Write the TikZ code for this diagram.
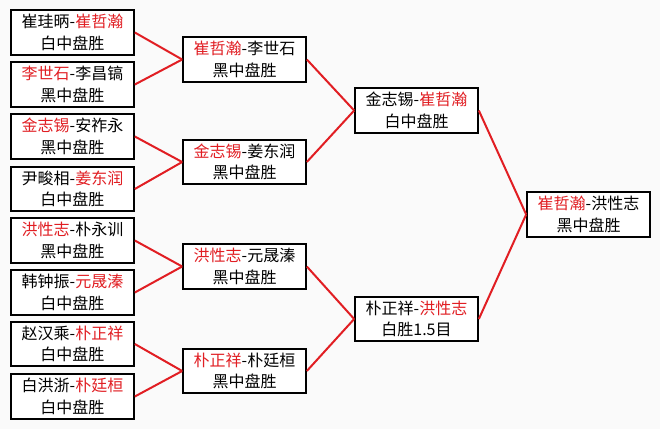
\documentclass[tikz,border=0pt]{standalone}
\usepackage{fontspec}
\newfontfamily\cjk{Noto Sans CJK SC}
\usetikzlibrary{positioning}
\definecolor{winred}{RGB}{225,30,35}
\definecolor{paper}{RGB}{250,250,250}
\tikzset{game/.style={draw=black,line width=1.5pt,fill=white,minimum width=92pt,minimum height=33.5pt,inner sep=0pt,align=center,font=\cjk\fontsize{12}{16}\selectfont},
  link/.style={winred,line width=1.5pt}}
\newcommand*{\wn}[1]{\textcolor{winred}{#1}}

\begin{document}
\begin{tikzpicture}[x=0.75pt,y=-0.75pt]
\fill[paper] (0,0) rectangle (660,429);
% first round
\node[game] (R1) at (72.5,32.5) {崔珪昞-\wn{崔哲瀚}\\白中盘胜};
\node[game] (R2) at (72.5,84.5) {\wn{李世石}-李昌镐\\黑中盘胜};
\node[game] (R3) at (72.5,136.5) {\wn{金志锡}-安祚永\\黑中盘胜};
\node[game] (R4) at (72.5,189) {尹畯相-\wn{姜东润}\\白中盘胜};
\node[game] (R5) at (72.5,240.5) {\wn{洪性志}-朴永训\\黑中盘胜};
\node[game] (R6) at (72.5,292.5) {韩钟振-\wn{元晟溱}\\白中盘胜};
\node[game] (R7) at (72.5,344) {赵汉乘-\wn{朴正祥}\\白中盘胜};
\node[game] (R8) at (72.5,396.5) {白洪浙-\wn{朴廷桓}\\白中盘胜};
% quarter finals
\node[game] (Q1) at (244.5,59.5) {\wn{崔哲瀚}-李世石\\黑中盘胜};
\node[game] (Q2) at (244.5,162) {\wn{金志锡}-姜东润\\黑中盘胜};
\node[game] (Q3) at (244.5,266.5) {\wn{洪性志}-元晟溱\\黑中盘胜};
\node[game] (Q4) at (244.5,371) {\wn{朴正祥}-朴廷桓\\黑中盘胜};
% semi finals
\node[game] (S1) at (416.5,110.5) {金志锡-\wn{崔哲瀚}\\白中盘胜};
\node[game] (S2) at (416.5,319) {朴正祥-\wn{洪性志}\\白胜1.5目};
% final
\node[game] (F) at (588.5,214.5) {\wn{崔哲瀚}-洪性志\\黑中盘胜};
\foreach \a/\b in {R1/Q1,R2/Q1,R3/Q2,R4/Q2,R5/Q3,R6/Q3,R7/Q4,R8/Q4,Q1/S1,Q2/S1,Q3/S2,Q4/S2,S1/F,S2/F}
  \draw[link] (\a.east) -- (\b.west);
\end{tikzpicture}
\end{document}
